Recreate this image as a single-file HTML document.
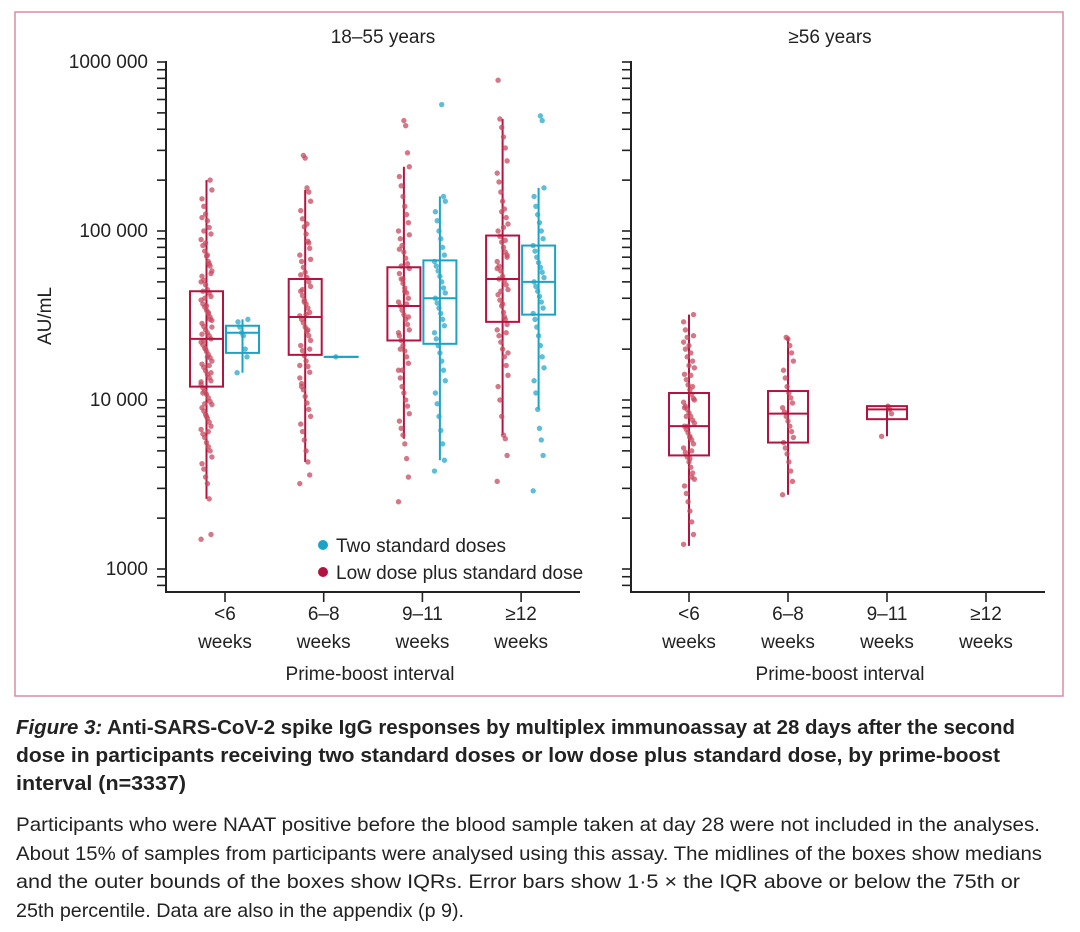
<!DOCTYPE html>
<html><head><meta charset="utf-8"><style>
html,body{margin:0;padding:0;background:#fff;}
svg{display:block;font-family:"Liberation Sans",sans-serif;}
</style></head><body>
<svg id="fig" width="1080" height="932" viewBox="0 0 1080 932" xmlns="http://www.w3.org/2000/svg">
<rect x="15" y="12" width="1048" height="684" fill="none" stroke="#d98da0" stroke-width="1.5"/>
<g id="chart"></g>
<g font-size="19" fill="#222">
<text x="383" y="43" text-anchor="middle">18–55 years</text>
<text x="830" y="43" text-anchor="middle">≥56 years</text>
<text transform="translate(51,316) rotate(-90)" text-anchor="middle">AU/mL</text>
<text x="370" y="680" text-anchor="middle">Prime-boost interval</text>
<text x="840" y="680" text-anchor="middle">Prime-boost interval</text>
<circle cx="323" cy="545" r="5" fill="#1ba3c6"/>
<text x="336" y="552">Two standard doses</text>
<circle cx="323" cy="572" r="5" fill="#b3143f"/>
<text x="336" y="579">Low dose plus standard dose</text>
</g>
<g fill="#222">
<text x="16" y="734" font-size="20.5" font-weight="bold" textLength="999" lengthAdjust="spacingAndGlyphs"><tspan font-style="italic">Figure 3:</tspan> Anti-SARS-CoV-2 spike IgG responses by multiplex immunoassay at 28 days after the second</text>
<text x="16" y="762" font-size="20.5" font-weight="bold" textLength="984" lengthAdjust="spacingAndGlyphs">dose in participants receiving two standard doses or low dose plus standard dose, by prime-boost</text>
<text x="16" y="790" font-size="20.5" font-weight="bold" textLength="170" lengthAdjust="spacingAndGlyphs">interval (n=3337)</text>
<text x="16" y="831" font-size="19.5" textLength="1024" lengthAdjust="spacingAndGlyphs">Participants who were NAAT positive before the blood sample taken at day 28 were not included in the analyses.</text>
<text x="16" y="860" font-size="19.5" textLength="1026" lengthAdjust="spacingAndGlyphs">About 15% of samples from participants were analysed using this assay. The midlines of the boxes show medians</text>
<text x="16" y="888" font-size="19.5" textLength="1004" lengthAdjust="spacingAndGlyphs">and the outer bounds of the boxes show IQRs. Error bars show 1·5 × the IQR above or below the 75th or</text>
<text x="16" y="917" font-size="19.5" textLength="448" lengthAdjust="spacingAndGlyphs">25th percentile. Data are also in the appendix (p 9).</text>
</g>
</svg>
<script>
// ---- data (AU/mL) ----
const categories = ["<6", "6–8", "9–11", "≥12"];
const yTickValues = [1000, 10000, 100000, 1000000];
const yTickLabels = ["1000", "10 000", "100 000", "1000 000"];
// box stats per group: [q1, median, q3, whiskerLow, whiskerHigh]
const youngLowStats = [[12000,23000,44000,2600,200000],[18500,31000,52000,4300,175000],[22500,36000,61000,5900,240000],[29000,52000,94000,6200,460000]];
const youngStdStats = [[19000,25000,27500,14500,30000],[18000,18000,18000,18000,18000],[21500,40000,67000,4400,160000],[32000,50000,82000,8800,180000]];
const oldLowStats = [[4700,7000,11000,1370,32000],[5600,8300,11300,2750,23300],[7700,8800,9200,6100,9200],null];
// individual points (thousands AU/mL)
const youngLowPts = [
[1.5,1.6,2.6,3.2,3.5,3.9,4.2,4.6,5,5.3,5.6,6,6.3,6.7,7,7.4,7.8,8.2,8.6,9,9.4,9.8,10.3,10.8,11.3,11.8,12.4,13,13.6,14.2,14.9,15.6,16.3,17,17.8,18.6,19.4,20.3,21.2,22,23,24,25,26,27.2,28.4,29.6,31,32.4,34,35.5,37,39,41,43,45,48,51,54,58,62,66,71,76,82,89,96,105,115,126,140,155,175,200,6.5,8,9.5,11,12.8,14.5,16,18,20,22.5,24.5,27,30,33,36,40,44,50,56,64,72,85,100,120],
[3.2,3.6,4.3,5,5.8,6.5,7.2,8,8.8,9.6,10.5,11.5,12.5,13.5,14.6,15.8,17,18.3,19.6,21,22.5,24,25.5,27,28.6,30,31.5,33,35,37,39,41.5,44,47,50,53,57,61,66,72,79,87,96,106,118,132,150,170,180,270,280,12,16,20,26,32,38,45,55,68,85,110],
[2.5,3.5,4.5,5.5,6.2,6.8,7.5,8.3,9.2,10,11,12,13.5,15,16.5,18,19.5,21,22.5,24,26,28,30,32,34,36,38,40,43,46,49,52,56,60,64,69,75,82,90,100,112,125,140,160,185,210,240,290,420,450,15,20,25,31,37,44,52,62,78,95],
[3.3,4.7,5.9,6.2,8,10,12,14,16,18,20,22,24,26,28,30,33,36,39,42,45,48,51,54,58,62,66,70,75,80,86,93,100,110,120,135,150,170,195,220,260,310,360,410,460,780,19,25,31,37,44,52,60,72,88,105,130]];
const youngStdPts = [
[14.5,18,20,24,25,27,29,30],
[18],
[3.8,4.4,5.5,6.6,8,9.5,11,13,15,17,19,21,23,25,27.5,30,32.5,35,37.5,40,43,46,50,54,58,62,66,72,80,90,100,115,130,150,160,560],
[2.9,4.7,5.8,6.8,8.8,11,13,15.5,18,21,24,27,30,32.5,35,38,41,44,47,50,53,57,61,65,70,76,82,90,100,112,125,140,160,180,450,480]];
const oldLowPts = [
[1.4,1.6,1.9,2.2,2.5,2.8,3.1,3.4,3.7,4,4.3,4.6,4.9,5.2,5.5,5.8,6.1,6.4,6.7,7,7.3,7.6,8,8.4,8.8,9.2,9.7,10.2,10.8,11.5,12.3,13.2,14.2,15.5,17,19,21,23.5,26,29,32,5,6,7,8,9,10,12,14,16,18,20,22,24,3.5,4.5],
[2.75,3.3,3.8,4.3,4.8,5.2,5.6,6,6.5,7,7.5,8,8.5,9,9.6,10.3,11,12,13.5,15,17,19,21,23,23.5],
[6.1,8.3,8.8,9.2],
[]];

// ---- scales ----
const NS = "http://www.w3.org/2000/svg";
const chart = document.getElementById("chart");
const Y0 = 569, DEC = 169;
function yScale(v){ return Y0 - (Math.log10(v) - 3) * DEC; }
const panels = [{axisX:166, endX:580, cat0:225, step:98.7}, {axisX:631, endX:1045, cat0:689, step:99}];
function xScale(p, i){ return panels[p].cat0 + i * panels[p].step; }
function mk(tag, attrs){ const e = document.createElementNS(NS, tag); for (const k in attrs) e.setAttribute(k, attrs[k]); chart.appendChild(e); return e; }
const RED = "#b3143f", BLUE = "#1ba3c6", AX = "#222";

panels.forEach((pn, p) => {
  const ax = mk("line", {x1:pn.axisX, y1:yScale(1000000)-1, x2:pn.axisX, y2:592, stroke:AX, "stroke-width":2});
  
  
  const xa = mk("line", {x1:pn.axisX-1, y1:592, x2:pn.endX, y2:592, stroke:AX, "stroke-width":2});
  
  
  const minors = [];
  for (let d = 3; d < 6; d++) for (let m = 1; m < 10; m++) minors.push(m * Math.pow(10, d));
  minors.push(1000000, 900, 800);
  minors.forEach(v => {
    const t = mk("line", {x1:pn.axisX-9, y1:yScale(v), x2:pn.axisX, y2:yScale(v), stroke:AX, "stroke-width":1.6});
    
    
  });
  categories.forEach((c, i) => {
    const x = xScale(p, i);
    const t = mk("line", {x1:x, y1:592, x2:x, y2:602, stroke:AX, "stroke-width":1.6});
    
    
    const l1 = mk("text", {x:x, y:620, "text-anchor":"middle", "font-size":19, fill:"#222"});
    l1.textContent = c;
    
    
    const l2 = mk("text", {x:x, y:648, "text-anchor":"middle", "font-size":19, fill:"#222"});
    l2.textContent = "weeks";
    
    
  });
});
yTickValues.forEach((v, i) => {
  const t = mk("text", {x:148, y:yScale(v)+6, "text-anchor":"end", "font-size":19, fill:"#222"});
  t.textContent = yTickLabels[i];
  
  
});

function drawGroup(p, i, offset, width, stats, pts, color, dotColor, name){
  const cx = xScale(p, i) + offset;
  if (stats) {
    const [q1, med, q3, lo, hi] = stats;
    const w1 = mk("line", {x1:cx, y1:yScale(hi), x2:cx, y2:yScale(lo), stroke:color, "stroke-width":2});
    
    
  }
  pts.forEach((v, k) => {
    const jit = (((k * 37) % 13) - 6) * 0.9;
    const d = mk("circle", {cx:cx + jit, cy:yScale(v * 1000), r:2.7, fill:dotColor, "fill-opacity":0.75});
    
    
  });
  if (stats) {
    const [q1, med, q3] = stats;
    const b = mk("rect", {x:cx - width/2, y:yScale(q3), width:width, height:Math.max(0.01, yScale(q1) - yScale(q3)), fill:"none", stroke:color, "stroke-width":2});
    
    
    const m = mk("line", {x1:cx - width/2, y1:yScale(med), x2:cx + width/2, y2:yScale(med), stroke:color, "stroke-width":2});
    
    
  }
}
categories.forEach((c, i) => {
  drawGroup(0, i, -18.5, 33, youngLowStats[i], youngLowPts[i], RED, "#c64a5e", "young-low-dose-" + i);
  drawGroup(0, i, 17.5, 33, youngStdStats[i], youngStdPts[i], BLUE, "#2aa8c8", "young-standard-dose-" + i);
  drawGroup(1, i, 0, 40, oldLowStats[i], oldLowPts[i], RED, "#c64a5e", "old-low-dose-" + i);
});
</script>
</body></html>
